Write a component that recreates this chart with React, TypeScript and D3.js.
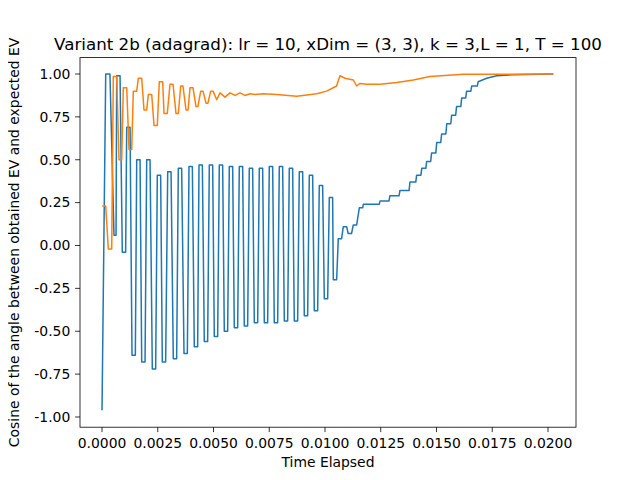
import * as d3 from 'd3';

// time in units of 1e-4
const blueStart: [number, number] = [0, -0.96];
const blueSquare: [number, number][] = [
  [1.66, 1.0], [5.38, 0.06], [6.59, 0.99], [9.1, -0.04], [11.08, 0.69], [13.45, -0.64],
  [15.56, 0.5], [17.8, -0.68], [20.04, 0.5], [22.56, -0.72], [24.8, 0.41], [27.04, -0.68],
  [29.46, 0.43], [31.97, -0.66], [34.22, 0.45], [36.77, -0.63], [39.01, 0.46], [41.39, -0.59],
  [43.5, 0.47], [45.87, -0.56], [48.12, 0.47], [50.36, -0.53], [52.6, 0.47], [54.84, -0.5],
  [57.09, 0.46], [59.33, -0.48], [61.57, 0.46], [63.81, -0.47], [66.05, 0.45], [68.3, -0.45],
  [70.54, 0.45], [72.78, -0.45], [75.02, 0.46], [77.26, -0.45], [79.51, 0.46], [81.75, -0.44],
  [83.99, 0.45], [86.23, -0.44], [88.48, 0.43], [90.72, -0.41], [92.96, 0.41], [95.2, -0.38],
  [97.44, 0.35], [99.69, -0.31], [101.93, 0.28], [103.72, -0.2], [105.96, 0.04], [108.2, 0.11],
  [110.4, 0.07], [112.7, 0.12], [115.4, 0.22],
];
const blueTail: [number, number][] = [
  [117.2, 0.24], [124.7, 0.26], [129.1, 0.29], [133.6, 0.32], [138.1, 0.37], [141.1, 0.41],
  [143.4, 0.45], [145.6, 0.49], [147.8, 0.54], [150.1, 0.6], [152.3, 0.65], [154.6, 0.71],
  [156.8, 0.76], [159.0, 0.81], [161.3, 0.86], [163.5, 0.9], [165.8, 0.93], [168.7, 0.955],
  [172.5, 0.975], [177.0, 0.99], [184.4, 0.996], [202.4, 1.0],
];
const orange: [number, number][] = [
  [0.13, 0.23], [1.66, 0.23], [2.83, -0.02], [4.35, -0.02], [5.07, 0.985], [6.59, 0.985],
  [7.62, 0.5], [8.83, 0.5], [9.55, 0.92], [11.08, 0.92], [12.11, 0.56], [13.32, 0.56],
  [14.04, 0.9], [15.56, 0.9], [16.28, 0.975], [17.8, 0.975], [18.83, 0.79], [20.04, 0.79],
  [20.76, 0.88], [22.29, 0.88], [23.32, 0.7], [24.8, 0.7], [25.7, 0.955], [27.22, 0.955],
  [27.8, 0.77], [29.28, 0.77], [30.49, 0.94], [31.84, 0.94], [33.18, 0.77], [34.22, 0.77],
  [35.29, 0.93], [36.3, 0.93], [37.67, 0.79], [38.6, 0.79], [39.46, 0.92], [40.8, 0.92],
  [42.15, 0.81], [43.0, 0.81], [44.26, 0.9], [45.3, 0.9], [46.64, 0.83], [47.5, 0.83],
  [48.74, 0.9], [49.8, 0.9], [51.43, 0.85], [52.91, 0.89], [55.16, 0.865], [57.4, 0.89],
  [59.64, 0.875], [61.88, 0.89], [64.13, 0.875], [66.37, 0.885], [68.61, 0.88], [72.3, 0.885],
  [78.3, 0.88], [87.3, 0.87], [96.3, 0.885], [100.7, 0.9], [103.7, 0.92], [105.2, 0.93],
  [106.7, 0.99], [109.0, 0.975], [112.7, 0.965], [114.2, 0.93], [115.7, 0.945], [118.7, 0.94],
  [124.7, 0.94], [132.2, 0.95], [139.6, 0.965], [147.1, 0.985], [162.0, 0.998], [202.4, 1.0],
];
const xTicks = [0, 0.0025, 0.005, 0.0075, 0.01, 0.0125, 0.015, 0.0175, 0.02];
const yTicks = [-1, -0.75, -0.5, -0.25, 0, 0.25, 0.5, 0.75, 1];
const FLAT = 1.5;

const W = 640, H = 480;
const L = 80, R = 576, T = 57.6, B = 427.2;

export default function App() {
  const x = d3.scaleLinear().domain([-0.000987, 0.021256]).range([L, R]);
  const y = d3.scaleLinear().domain([-1.0595, 1.0956]).range([B, T]);

  const blue: [number, number][] = [blueStart];
  blueSquare.forEach(([t, v], i) => {
    blue.push([t, v]);
    const next = i + 1 < blueSquare.length ? blueSquare[i + 1][0] : blueTail[0][0];
    blue.push([Math.min(t + (i === 0 ? 1.9 : FLAT), next - 0.3), v]);
  });
  // staircase look on the rising tail
  blueTail.forEach((p, i) => {
    if (i > 0 && i < 18) blue.push([p[0] - 0.4, blueTail[i - 1][1]]);
    blue.push(p);
  });

  const line = d3.line<[number, number]>()
    .x(d => x(d[0] * 1e-4))
    .y(d => y(d[1]));

  const font = 'DejaVu Sans, sans-serif';
  return (
    <svg width={W} height={H} style={{ display: 'block', margin: -8 }} fontFamily={font}>
      <rect width={W} height={H} fill="#fff" />
      <path d={line(blue) ?? ''} fill="none" stroke="#1f77b4" strokeWidth={1.5} strokeLinejoin="round" />
      <path d={line(orange) ?? ''} fill="none" stroke="#ff7f0e" strokeWidth={1.5} strokeLinejoin="round" />
      <rect x={L} y={T} width={R - L} height={B - T} fill="none" stroke="#000" strokeWidth={0.8} />
      {xTicks.map(t => (
        <g key={t} transform={`translate(${x(t)},${B})`}>
          <line y2={4.9} stroke="#000" strokeWidth={0.8} />
          <text y={20.5} textAnchor="middle" fontSize={13.9}>{t.toFixed(4)}</text>
        </g>
      ))}
      {yTicks.map(t => (
        <g key={t} transform={`translate(${L},${y(t)})`}>
          <line x2={-4.9} stroke="#000" strokeWidth={0.8} />
          <text x={-9.7} dy="0.35em" textAnchor="end" fontSize={13.9}>{t.toFixed(2)}</text>
        </g>
      ))}
      <text x={(L + R) / 2} y={467} textAnchor="middle" fontSize={13.9}>Time Elapsed</text>
      <text transform={`translate(19,${(T + B) / 2}) rotate(-90)`} textAnchor="middle" fontSize={13.9}>
        Cosine of the angle between obtained EV and expected EV
      </text>
      <text x={(L + R) / 2} y={50} textAnchor="middle" fontSize={16.7}>
        Variant 2b (adagrad): lr = 10, xDim = (3, 3), k = 3,L = 1, T = 100
      </text>
    </svg>
  );
}
